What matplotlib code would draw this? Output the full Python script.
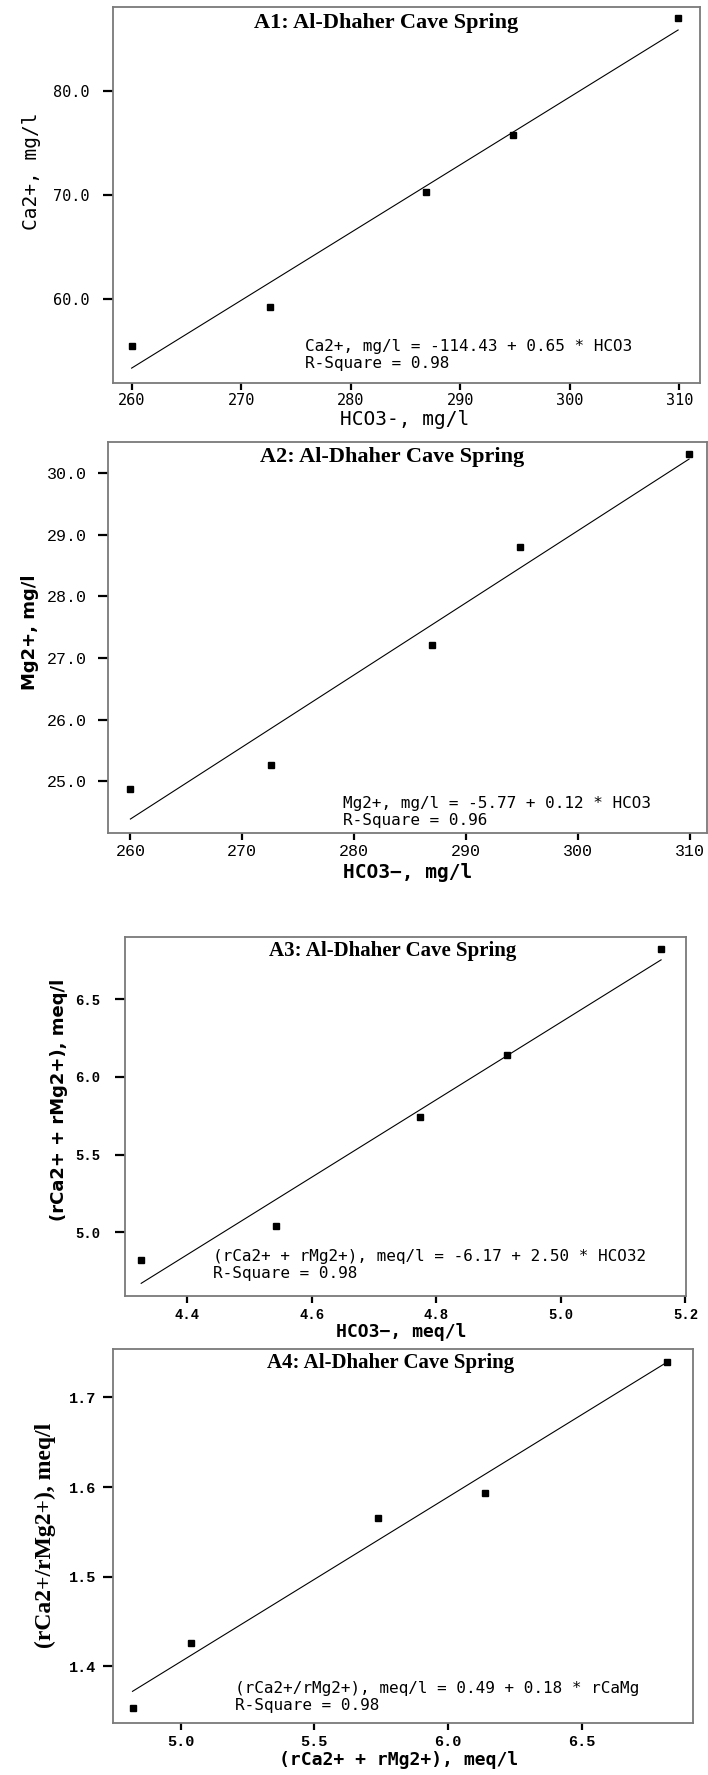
import numpy as np
import matplotlib
matplotlib.use('Agg')
import matplotlib.pyplot as plt

# values (same five samples)
hco3_mg = [260.0, 272.6, 286.9, 294.8, 309.9]
ca_mg = [55.5, 59.3, 70.3, 75.7, 86.9]
mg_mg = [24.88, 25.26, 27.21, 28.80, 30.31]
hco3_meq = [4.326, 4.543, 4.774, 4.913, 5.161]
camg_sum_meq = [4.82, 5.04, 5.74, 6.14, 6.82]
camg_ratio = [1.354, 1.426, 1.566, 1.594, 1.740]

titles = ['A1: Al-Dhaher Cave Spring', 'A2: Al-Dhaher Cave Spring',
          'A3: Al-Dhaher Cave Spring', 'A4: Al-Dhaher Cave Spring']
equations = ['Ca2+, mg/l = -114.43 + 0.65 * HCO3',
             'Mg2+, mg/l = -5.77 + 0.12 * HCO3',
             '(rCa2+ + rMg2+), meq/l = -6.17 + 2.50 * HCO32',
             '(rCa2+/rMg2+), meq/l = 0.49 + 0.18 * rCaMg']
rsquare = ['R-Square = 0.98', 'R-Square = 0.96', 'R-Square = 0.98', 'R-Square = 0.98']
xlabels = ['HCO3-, mg/l', 'HCO3\u2212, mg/l', 'HCO3\u2212, meq/l', '(rCa2+ + rMg2+), meq/l']
ylabels = ['Ca2+, mg/l', 'Mg2+, mg/l', '(rCa2+ + rMg2+), meq/l', '(rCa2+/rMg2+), meq/l']

x_ticks = [[260, 270, 280, 290, 300, 310],
           [260, 270, 280, 290, 300, 310],
           [4.4, 4.6, 4.8, 5.0, 5.2],
           [5.0, 5.5, 6.0, 6.5]]
y_ticks = [[60.0, 70.0, 80.0],
           [25.0, 26.0, 27.0, 28.0, 29.0, 30.0],
           [5.0, 5.5, 6.0, 6.5],
           [1.4, 1.5, 1.6, 1.7]]
x_fmt = ['{:.0f}', '{:.0f}', '{:.1f}', '{:.1f}']
y_fmt = ['{:.1f}', '{:.1f}', '{:.1f}', '{:.1f}']

xs = [hco3_mg, hco3_mg, hco3_meq, camg_sum_meq]
ys = [ca_mg, mg_mg, camg_sum_meq, camg_ratio]

W, H = 708, 1775
# panel boxes in pixels: left, right, top, bottom
boxes = [(113, 700, 7, 383), (108, 707, 442, 833), (125, 686, 937, 1296), (113, 693, 1349, 1723)]
xlims = [(258.3, 311.9), (258.0, 311.5), (4.30, 5.201), (4.747, 6.917)]
ylims = [(52.0, 88.0), (24.16, 30.5), (4.59, 6.90), (1.337, 1.754)]

tick_font = [('DejaVu Sans Mono', 11, 'normal'), ('Liberation Mono', 12, 'normal'),
             ('Liberation Mono', 10, 'bold'), ('Liberation Mono', 11, 'bold')]
ylab_font = [('DejaVu Sans Mono', 14, 'normal'), ('DejaVu Sans', 13, 'bold'),
             ('DejaVu Sans', 13, 'bold'), ('Liberation Serif', 17, 'bold')]
xlab_font = [('DejaVu Sans Mono', 14, 'normal'), ('DejaVu Sans Mono', 14, 'bold'),
             ('DejaVu Sans Mono', 13, 'bold'), ('DejaVu Sans Mono', 13, 'bold')]
title_size = [16, 16, 15, 15]
title_pos = [(0.465, 0.957), (0.474, 0.962), (0.477, 0.961), (0.478, 0.963)]
ylab_pos = [(-0.138, 0.564), (-0.130, 0.514), (-0.117, 0.546), (-0.117, 0.503)]
xlab_pos = [(0.497, -0.098), (0.500, -0.100), (0.493, -0.100), (0.492, -0.099)]
eq_pos = [(0.327, 0.096, 0.052), (0.392, 0.075, 0.032), (0.156, 0.110, 0.064), (0.210, 0.093, 0.048)]
ypad = [10, 8, 11, 5]
xpad = [2, 3, 3.5, 4]

fig = plt.figure(figsize=(W / 100, H / 100), dpi=100)

for i in range(4):
    l, r, t, b = boxes[i]
    ax = fig.add_axes([l / W, 1 - b / H, (r - l) / W, (b - t) / H])
    x = np.array(xs[i])
    y = np.array(ys[i])
    ax.plot(x, y, 's', color='black', ms=4, mec='black')
    k, c = np.polyfit(x, y, 1)
    xx = np.array([x.min(), x.max()])
    ax.plot(xx, k * xx + c, color='black', lw=0.8)
    ax.set_xlim(*xlims[i])
    ax.set_ylim(*ylims[i])

    fam, size, weight = tick_font[i]
    ax.set_xticks(x_ticks[i], labels=[x_fmt[i].format(v) for v in x_ticks[i]],
                  fontfamily=fam, fontsize=size, fontweight=weight)
    ax.set_yticks(y_ticks[i], labels=[y_fmt[i].format(v) for v in y_ticks[i]],
                  fontfamily=fam, fontsize=size, fontweight=weight)
    ax.tick_params(axis='y', direction='out', length=7, width=1.6, pad=ypad[i])
    ax.tick_params(axis='x', direction='out', length=5, width=1.6, pad=xpad[i])

    for s in ax.spines.values():
        s.set_color('#7a7a7a')
        s.set_linewidth(1.3)

    ax.text(title_pos[i][0], title_pos[i][1], titles[i], transform=ax.transAxes,
            ha='center', va='center', fontfamily='Liberation Serif',
            fontweight='bold', fontsize=title_size[i])

    fam, size, weight = ylab_font[i]
    ax.set_ylabel(ylabels[i], fontfamily=fam, fontsize=size, fontweight=weight, va='center')
    ax.yaxis.set_label_coords(*ylab_pos[i])
    fam, size, weight = xlab_font[i]
    ax.set_xlabel(xlabels[i], fontfamily=fam, fontsize=size, fontweight=weight, va='center')
    ax.xaxis.set_label_coords(*xlab_pos[i])

    ex, ey1, ey2 = eq_pos[i]
    ax.text(ex, ey1, equations[i], transform=ax.transAxes, ha='left', va='center',
            fontfamily='DejaVu Sans Mono', fontsize=11.5)
    ax.text(ex, ey2, rsquare[i], transform=ax.transAxes, ha='left', va='center',
            fontfamily='DejaVu Sans Mono', fontsize=11.5)

fig.savefig('out.png', dpi=100)
